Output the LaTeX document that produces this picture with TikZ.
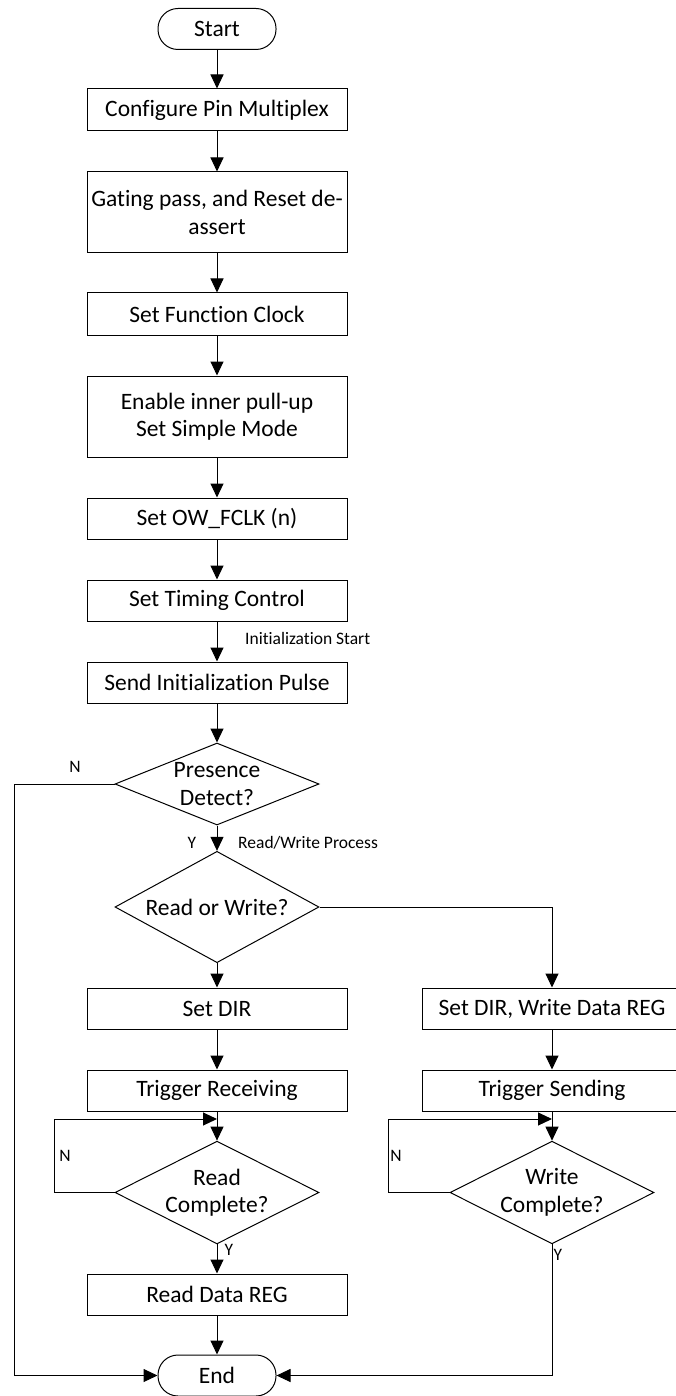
\documentclass[tikz,border=0pt]{standalone}
\usepackage{fontspec}
\setmainfont{Carlito}[Ligatures={NoCommon}]
\usetikzlibrary{shapes.geometric,arrows.meta}
\begin{document}
\begin{tikzpicture}[x=1pt,y=-1pt,
  every node/.style={font=\fontsize{23.5}{27.5}\selectfont},
  procbox/.style={draw, line width=1pt, minimum width=260pt, align=center, inner sep=0pt},
  termbox/.style={draw, line width=1pt, rounded corners=20pt, minimum width=118pt, minimum height=41pt, inner sep=0pt},
  decision/.style={draw, diamond, line width=1pt, minimum width=204pt, minimum height=82pt, inner sep=-12pt, align=center},
  lab/.style={font=\fontsize{17.5}{20}\selectfont, inner sep=0pt},
  conn/.style={line width=1pt, -{Triangle[length=14pt,width=13pt]}}
]
\useasboundingbox (0,0) rectangle (675,1396);

\node[termbox] (start) at (217,29) {Start};
\node[procbox, minimum height=42pt] (b1) at (217,110) {Configure Pin Multiplex};
\node[procbox, minimum height=81pt] (b2) at (217,212.5) {Gating pass, and Reset de-\\assert};
\node[procbox, minimum height=42pt] (b3) at (217,314) {Set Function Clock};
\node[procbox, minimum height=81pt] (b4) at (217,416.5) {Enable inner pull-up\\Set Simple Mode};
\node[procbox, minimum height=41pt] (b5) at (217,518.5) {Set OW\_FCLK (n)};
\node[procbox, minimum height=41pt] (b6) at (217,600.5) {Set Timing Control};
\node[procbox, minimum height=41pt] (b7) at (217,682.5) {Send Initialization Pulse};
\node[decision] (d1) at (217,784) {Presence\\Detect?};
\node[decision] (d2) at (217,907) {Read or Write?};
\node[procbox, minimum height=41pt] (b8) at (217,1008.5) {Set DIR};
\node[procbox, minimum height=41pt] (b9) at (552,1008.5) {Set DIR, Write Data REG};
\node[procbox, minimum height=41pt] (b10) at (217,1090.5) {Trigger Receiving};
\node[procbox, minimum height=41pt] (b11) at (552,1090.5) {Trigger Sending};
\node[decision] (d3) at (217,1192.5) {Read\\Complete?};
\node[decision] (d4) at (552,1192.5) {Write\\Complete?};
\node[procbox, minimum height=41pt] (b12) at (217,1294.5) {Read Data REG};
\node[termbox] (end) at (217,1375.5) {End};

\node[lab, anchor=west] (linit) at (245,638) {Initialization Start};
\node[lab] (ln1) at (75,767) {N};
\node[lab] (ly1) at (192,843) {Y};
\node[lab, anchor=west] (lrw) at (238,843) {Read/Write Process};
\node[lab] (ln2) at (65,1156) {N};
\node[lab] (ly2) at (229,1250) {Y};
\node[lab] (ln3) at (396,1156) {N};
\node[lab] (ly3) at (558,1255) {Y};

\coordinate (nl) at (14,784);
\coordinate (rl) at (54,1119);
\coordinate (rj) at (217,1119);
\coordinate (wl) at (388,1119);
\coordinate (wj) at (552,1119);
\coordinate (wr) at (552,907);
\coordinate (yb) at (552,1375.5);

\draw[conn] (start) -- (b1);
\draw[conn] (b1) -- (b2);
\draw[conn] (b2) -- (b3);
\draw[conn] (b3) -- (b4);
\draw[conn] (b4) -- (b5);
\draw[conn] (b5) -- (b6);
\draw[conn] (b6) -- (b7);
\draw[conn] (b7) -- (d1.north);
\draw[conn] (d1.south) -- (d2.north);
\draw[conn] (d2.south) -- (b8);
\draw[conn] (d2.east) -- (wr) -- (b9);
\draw[conn] (b8) -- (b10);
\draw[conn] (b9) -- (b11);
\draw[conn] (b10) -- (d3.north);
\draw[conn] (b11) -- (d4.north);
\draw[conn] (d3.west) -| (rl) -- (rj);
\draw[conn] (d4.west) -| (wl) -- (wj);
\draw[conn] (d3.south) -- (b12);
\draw[conn] (b12) -- (end);
\draw[conn] (d1.west) -- (nl) |- (end.west);
\draw[conn] (d4.south) -- (yb) -- (end.east);
\end{tikzpicture}
\end{document}
